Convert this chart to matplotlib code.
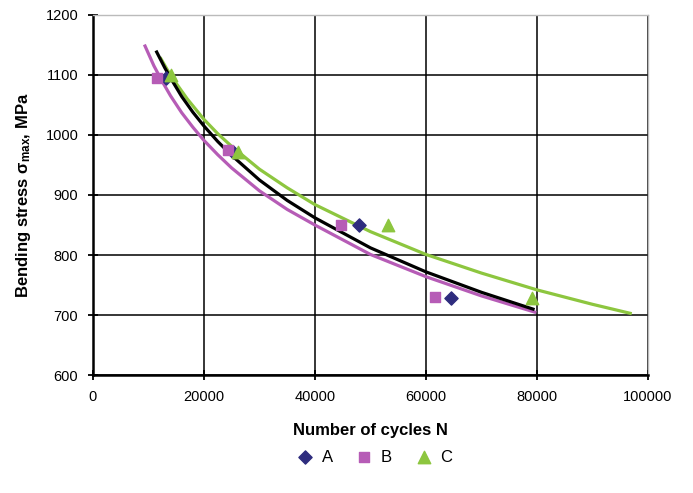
import matplotlib.pyplot as plt

plt.rcParams["font.family"] = ["Liberation Sans", "DejaVu Sans"]
plt.rcParams["mathtext.fontset"] = "custom"
plt.rcParams["mathtext.rm"] = "Liberation Sans:bold"
plt.rcParams["mathtext.it"] = "Liberation Sans:bold"
plt.rcParams["mathtext.bf"] = "Liberation Sans:bold"

# measured points
a_n = [13100, 25200, 47900, 64500]
a_s = [1095, 972, 850, 728]
b_n = [11500, 24300, 44700, 61600]
b_s = [1095, 975, 850, 730]
c_n = [14000, 26100, 53200, 79100]
c_s = [1100, 972, 850, 728]

# fitted curves
fit_a_n = [11500, 13000, 14500, 16000, 18000, 20000, 22500, 25000, 30000, 35000, 40000,
           50000, 60000, 70000, 79300]
fit_a_s = [1138, 1111, 1087, 1064, 1038, 1015, 989, 966, 925, 891, 862, 812, 772, 738, 710]
fit_b_n = [9400, 11000, 12500, 14000, 16000, 18000, 20000, 22500, 25000, 30000, 35000,
           40000, 50000, 60000, 70000, 79600]
fit_b_s = [1148, 1115, 1089, 1065, 1037, 1013, 991, 967, 945, 907, 876, 850, 801, 764,
           732, 705]
fit_c_n = [12250, 13500, 15000, 17000, 20000, 22500, 25000, 30000, 35000, 40000, 50000,
           60000, 70000, 80000, 90000, 96800]
fit_c_s = [1127, 1107, 1086, 1060, 1026, 1002, 981, 943, 912, 884, 839, 801, 770, 742,
           718, 703]

col_a = "#2E2C7E"
col_b = "#B65CB6"
col_c = "#8DC63F"

fig = plt.figure(figsize=(6.93, 4.93), dpi=100)
ax = fig.add_axes([0.134, 0.239, 0.801, 0.731])

ax.plot(fit_b_n, fit_b_s, color=col_b, lw=2.3, zorder=3)
ax.plot(fit_c_n, fit_c_s, color=col_c, lw=2.3, zorder=3)
ax.plot(fit_a_n, fit_a_s, color="black", lw=2.3, zorder=4)

ax.scatter(a_n, a_s, marker="D", s=45, color=col_a, label="A", zorder=5)
ax.scatter(b_n, b_s, marker="s", s=60, color=col_b, label="B", zorder=5)
ax.scatter(c_n, c_s, marker="^", s=80, color=col_c, label="C", zorder=5)

ax.set_xlim(0, 100000)
ax.set_ylim(600, 1200)
ax.set_xticks(range(0, 100001, 20000))
ax.set_yticks(range(600, 1201, 100))
ax.grid(True, color="black", lw=1.1)
ax.set_axisbelow(True)

for s in ["left", "bottom"]:
    ax.spines[s].set_linewidth(1.8)
for s in ["top", "right"]:
    ax.spines[s].set_color("#bbbbbb")
    ax.spines[s].set_linewidth(1.0)

ax.tick_params(direction="inout", length=7, width=1.3, labelsize=10.5, pad=7)

ax.set_xlabel("Number of cycles N", fontsize=12, fontweight="bold", labelpad=14)
ax.set_ylabel(r"Bending stress $\mathregular{\sigma}_{\mathregular{max}}$, MPa",
              fontsize=12, fontweight="bold", labelpad=9)

ax.legend(loc="upper center", bbox_to_anchor=(0.5, -0.165), ncol=3, frameon=False,
          fontsize=12, handletextpad=0.0, columnspacing=0.9)

fig.savefig("out.png", dpi=100)
